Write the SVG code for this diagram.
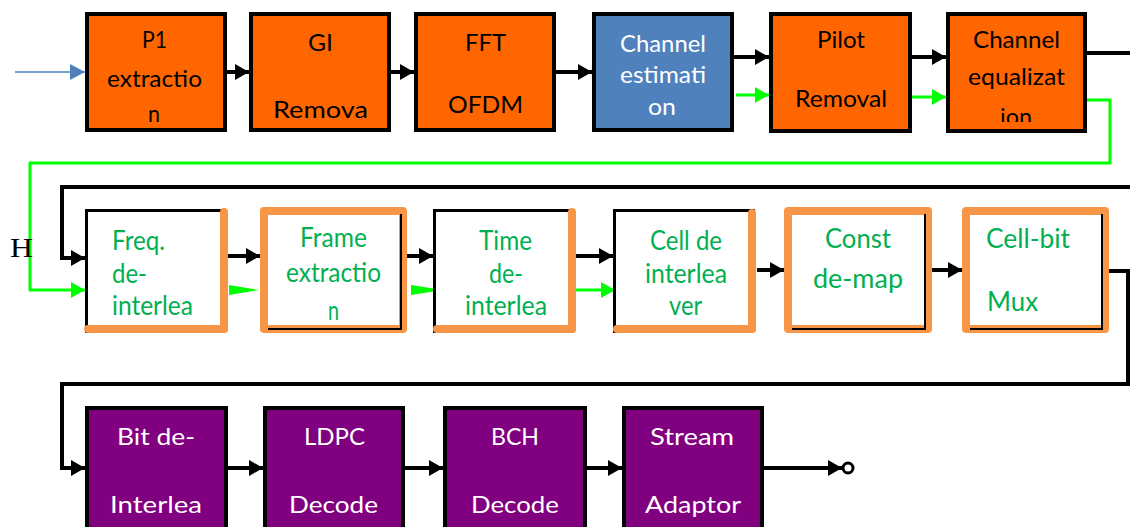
<svg xmlns="http://www.w3.org/2000/svg" width="1130" height="527" viewBox="0 0 1130 527">
  <style>
    .t { font-family: Lato, "Open Sans", sans-serif; font-size: 24px; }
    .tm { font-family: Lato, "Open Sans", sans-serif; font-size: 26px; fill: #00B050; }
    .blk { fill: #000; }
    .wht { fill: #fff; }
    .orange { fill: #FF6600; stroke: #000; stroke-width: 4; }
    .blue { fill: #4F81BD; stroke: #000; stroke-width: 4; }
    .purple { fill: #800080; stroke: #000; stroke-width: 4; }
    .ob { fill: none; stroke: #F79646; stroke-width: 8; stroke-linecap: round; stroke-linejoin: round; }
    .kb { fill: none; stroke: #000; stroke-width: 3; }
    .kb2 { fill: none; stroke: #000; stroke-width: 2; }
    .wire { fill: none; stroke: #000; stroke-width: 4; }
    .gwire { fill: none; stroke: #00FF00; stroke-width: 3; }
  </style>
  <defs>
    <marker id="ah" markerUnits="userSpaceOnUse" markerWidth="14" markerHeight="16" refX="14" refY="8" orient="auto">
      <path d="M0,0 L14,8 L0,16 z" fill="#000"/>
    </marker>
    <marker id="gh" markerUnits="userSpaceOnUse" markerWidth="14" markerHeight="16" refX="14" refY="8" orient="auto">
      <path d="M0,0 L14,8 L0,16 z" fill="#00FF00"/>
    </marker>
    <marker id="bh" markerUnits="userSpaceOnUse" markerWidth="15" markerHeight="16" refX="15" refY="8" orient="auto">
      <path d="M0,0 L15,8 L0,16 z" fill="#4F81BD"/>
    </marker>
    <clipPath id="clipEq">
      <rect x="946" y="12" width="141" height="110"/>
    </clipPath>
  </defs>

  <!-- connectors -->
  <g id="connectors">
    <!-- input -->
    <line x1="15" y1="72" x2="85" y2="72" stroke="#4F81BD" stroke-width="1.5" marker-end="url(#bh)"/>
    <!-- top row -->
    <line class="wire" x1="227" y1="72" x2="249" y2="72" marker-end="url(#ah)"/>
    <line class="wire" x1="391" y1="72" x2="414" y2="72" marker-end="url(#ah)"/>
    <line class="wire" x1="556" y1="72" x2="592" y2="72" marker-end="url(#ah)"/>
    <line class="wire" x1="734" y1="57" x2="769" y2="57" marker-end="url(#ah)"/>
    <line class="gwire" x1="736" y1="95" x2="769" y2="95" marker-end="url(#gh)"/>
    <line class="wire" x1="912" y1="57" x2="946" y2="57" marker-end="url(#ah)"/>
    <line class="gwire" x1="912" y1="97" x2="946" y2="97" marker-end="url(#gh)"/>
    <line class="wire" x1="1087" y1="53" x2="1130" y2="53"/>
    <!-- channel estimate feed -->
    <polyline class="gwire" points="1087,100 1110,100 1110,163 30,163 30,290 85,290" marker-end="url(#gh)"/>
    <!-- data path into middle row -->
    <polyline class="wire" points="1130,187 62,187 62,258 85,258" marker-end="url(#ah)"/>
    <!-- middle row -->
    <line class="wire" x1="226" y1="256" x2="260" y2="256" marker-end="url(#ah)"/>
    <polygon points="229,285 259,290 229,295" fill="#00FF00"/>
    <line class="wire" x1="407" y1="256" x2="433" y2="256" marker-end="url(#ah)"/>
    <polygon points="411,285 443,290 411,295" fill="#00FF00"/>
    <line class="wire" x1="571" y1="256" x2="613" y2="256" marker-end="url(#ah)"/>
    <line class="gwire" x1="571" y1="290" x2="615" y2="290" marker-end="url(#gh)"/>
    <line class="wire" x1="757" y1="270" x2="784" y2="270" marker-end="url(#ah)"/>
    <line class="wire" x1="932" y1="270" x2="962" y2="270" marker-end="url(#ah)"/>
    <!-- into bottom row -->
    <polyline class="wire" points="1109,271 1128,271 1128,384 62,384 62,468 85,468" marker-end="url(#ah)"/>
    <!-- bottom row -->
    <line class="wire" x1="213" y1="468" x2="263" y2="468" marker-end="url(#ah)"/>
    <line class="wire" x1="405" y1="468" x2="443" y2="468" marker-end="url(#ah)"/>
    <line class="wire" x1="587" y1="468" x2="622" y2="468" marker-end="url(#ah)"/>
    <line class="wire" x1="764" y1="468" x2="842" y2="468" marker-end="url(#ah)"/>
    <circle cx="848" cy="468" r="5" fill="#fff" stroke="#000" stroke-width="3"/>
  </g>

  <text x="10" y="257" font-family="'Liberation Serif', serif" font-size="28" fill="#000" textLength="23" lengthAdjust="spacingAndGlyphs">H</text>

  <!-- top row -->
  <g id="p1">
    <rect class="orange" x="87" y="14" width="138" height="116"/>
    <text class="t blk" x="142" y="48" textLength="25" lengthAdjust="spacingAndGlyphs">P1</text>
    <text class="t blk" x="107" y="87" textLength="95" lengthAdjust="spacingAndGlyphs">extractio</text>
    <text class="t blk" x="148" y="122" textLength="12" lengthAdjust="spacingAndGlyphs">n</text>
  </g>
  <g id="gi">
    <rect class="orange" x="251" y="14" width="138" height="116"/>
    <text class="t blk" x="308" y="51" textLength="25" lengthAdjust="spacingAndGlyphs">GI</text>
    <text class="t blk" x="273" y="118" textLength="95" lengthAdjust="spacingAndGlyphs">Remova</text>
  </g>
  <g id="fft">
    <rect class="orange" x="416" y="14" width="138" height="116"/>
    <text class="t blk" x="465" y="51" textLength="41" lengthAdjust="spacingAndGlyphs">FFT</text>
    <text class="t blk" x="448" y="113" textLength="75" lengthAdjust="spacingAndGlyphs">OFDM</text>
  </g>
  <g id="chest">
    <rect class="blue" x="594" y="14" width="138" height="116"/>
    <text class="t wht" x="620" y="52" textLength="86" lengthAdjust="spacingAndGlyphs">Channel</text>
    <text class="t wht" x="620" y="83" textLength="86" lengthAdjust="spacingAndGlyphs">estimati</text>
    <text class="t wht" x="648" y="115" textLength="28" lengthAdjust="spacingAndGlyphs">on</text>
  </g>
  <g id="pilot">
    <rect class="orange" x="771" y="14" width="139" height="117"/>
    <text class="t blk" x="817" y="48" textLength="48" lengthAdjust="spacingAndGlyphs">Pilot</text>
    <text class="t blk" x="795" y="107" textLength="92" lengthAdjust="spacingAndGlyphs">Removal</text>
  </g>
  <g id="cheq">
    <rect class="orange" x="948" y="14" width="137" height="117"/>
    <g clip-path="url(#clipEq)">
      <text class="t blk" x="973" y="48" textLength="87" lengthAdjust="spacingAndGlyphs">Channel</text>
      <text class="t blk" x="968" y="85" textLength="97" lengthAdjust="spacingAndGlyphs">equalizat</text>
      <text class="t blk" x="1000" y="125" textLength="32" lengthAdjust="spacingAndGlyphs">ion</text>
    </g>
  </g>

  <!-- middle row -->
  <g id="freq">
    <rect x="86" y="210" width="140" height="120" fill="#fff"/>
    <polyline class="kb" points="86.5,333 86.5,210.5 227,210.5"/>
    <line class="ob" x1="224" y1="212" x2="224" y2="329"/>
    <line class="ob" x1="88" y1="329" x2="224" y2="329"/>
    <text class="tm" x="112" y="250" textLength="53" lengthAdjust="spacingAndGlyphs">Freq.</text>
    <text class="tm" x="112" y="283" textLength="35" lengthAdjust="spacingAndGlyphs">de-</text>
    <text class="tm" x="112" y="315" textLength="81" lengthAdjust="spacingAndGlyphs">interlea</text>
  </g>
  <g id="frame">
    <rect class="ob" x="264" y="211" width="139" height="118" fill="#fff"/>
    <polyline class="kb2" points="401,214 401,329 268,329"/>
    <text class="tm" x="300" y="247" textLength="67" lengthAdjust="spacingAndGlyphs">Frame</text>
    <text class="tm" x="286" y="282" textLength="95" lengthAdjust="spacingAndGlyphs">extractio</text>
    <text class="tm" x="328" y="320" textLength="11" lengthAdjust="spacingAndGlyphs">n</text>
  </g>
  <g id="time">
    <rect x="434" y="210" width="140" height="120" fill="#fff"/>
    <polyline class="kb" points="434.5,333 434.5,210.5 575,210.5"/>
    <line class="ob" x1="572" y1="212" x2="572" y2="329"/>
    <line class="ob" x1="437" y1="329" x2="572" y2="329"/>
    <text class="tm" x="479" y="250" textLength="53" lengthAdjust="spacingAndGlyphs">Time</text>
    <text class="tm" x="489" y="283" textLength="34" lengthAdjust="spacingAndGlyphs">de-</text>
    <text class="tm" x="465" y="315" textLength="82" lengthAdjust="spacingAndGlyphs">interlea</text>
  </g>
  <g id="cellde">
    <rect x="614" y="210" width="140" height="120" fill="#fff"/>
    <polyline class="kb" points="614.5,333 614.5,210.5 755,210.5"/>
    <line class="ob" x1="752" y1="213" x2="752" y2="329"/>
    <line class="ob" x1="617" y1="329" x2="752" y2="329"/>
    <text class="tm" x="650" y="250" textLength="72" lengthAdjust="spacingAndGlyphs">Cell de</text>
    <text class="tm" x="645" y="283" textLength="82" lengthAdjust="spacingAndGlyphs">interlea</text>
    <text class="tm" x="669" y="315" textLength="33" lengthAdjust="spacingAndGlyphs">ver</text>
  </g>
  <g id="const">
    <rect class="ob" x="788" y="211" width="140" height="118" fill="#fff"/>
    <polyline class="kb2" points="925,214 925,329 792,329"/>
    <text class="tm" x="825" y="248" textLength="66" lengthAdjust="spacingAndGlyphs">Const</text>
    <text class="tm" x="813" y="288" textLength="90" lengthAdjust="spacingAndGlyphs">de-map</text>
  </g>
  <g id="cellbit">
    <rect class="ob" x="966" y="211" width="139" height="118" fill="#fff"/>
    <polyline class="kb2" points="1102,214 1102,329 970,329"/>
    <text class="tm" x="986" y="248" textLength="84" lengthAdjust="spacingAndGlyphs">Cell-bit</text>
    <text class="tm" x="987" y="311" textLength="51" lengthAdjust="spacingAndGlyphs">Mux</text>
  </g>

  <!-- bottom row -->
  <g id="bitdeint">
    <rect class="purple" x="87" y="408" width="139" height="130"/>
    <text class="t wht" x="117" y="445" textLength="78" lengthAdjust="spacingAndGlyphs">Bit de-</text>
    <text class="t wht" x="110" y="513" textLength="92" lengthAdjust="spacingAndGlyphs">Interlea</text>
  </g>
  <g id="ldpc">
    <rect class="purple" x="265" y="408" width="138" height="130"/>
    <text class="t wht" x="304" y="445" textLength="61" lengthAdjust="spacingAndGlyphs">LDPC</text>
    <text class="t wht" x="289" y="513" textLength="89" lengthAdjust="spacingAndGlyphs">Decode</text>
  </g>
  <g id="bch">
    <rect class="purple" x="445" y="408" width="140" height="130"/>
    <text class="t wht" x="491" y="445" textLength="48" lengthAdjust="spacingAndGlyphs">BCH</text>
    <text class="t wht" x="471" y="513" textLength="88" lengthAdjust="spacingAndGlyphs">Decode</text>
  </g>
  <g id="stream">
    <rect class="purple" x="624" y="408" width="138" height="130"/>
    <text class="t wht" x="650" y="445" textLength="84" lengthAdjust="spacingAndGlyphs">Stream</text>
    <text class="t wht" x="645" y="513" textLength="96" lengthAdjust="spacingAndGlyphs">Adaptor</text>
  </g>
</svg>
